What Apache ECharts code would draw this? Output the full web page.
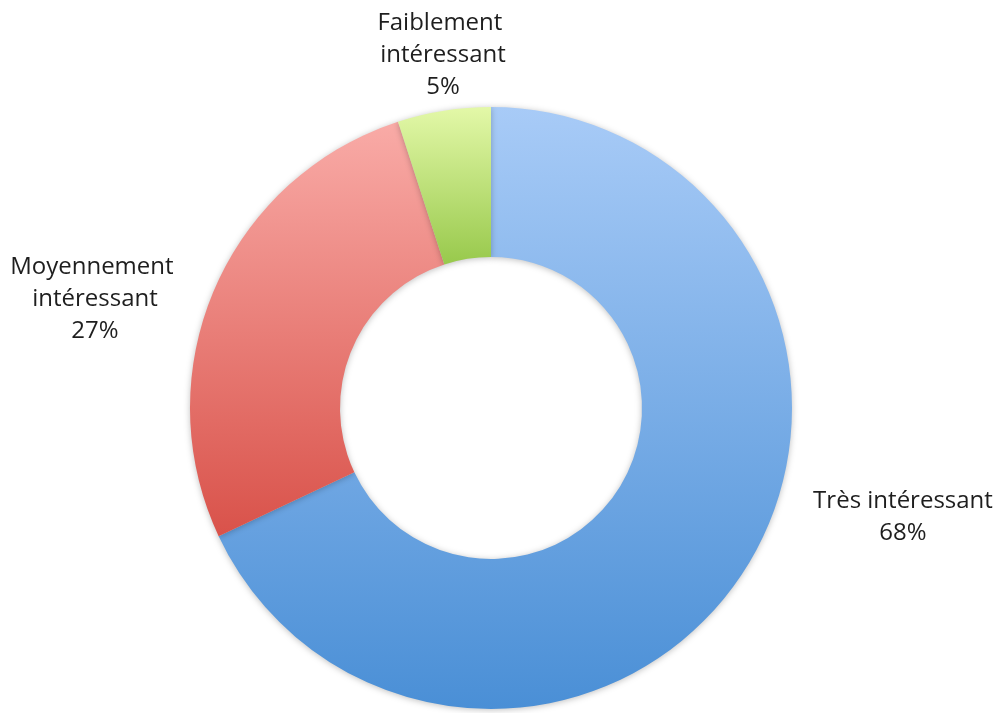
<!DOCTYPE html>
<html>
<head>
<meta charset="utf-8">
<script src="https://cdn.jsdelivr.net/npm/echarts@6/dist/echarts.min.js"></script>
<style>
  html, body { margin: 0; padding: 0; background: #fff; }
  #chart { width: 1002px; height: 713px; }
</style>
</head>
<body>
<div id="chart"></div>
<script>
// données
const categories = ['Très intéressant', 'Moyennement intéressant', 'Faiblement intéressant']
const values = [68, 27, 5]

// dégradés (haut -> bas) pour chaque part
const topColors = ['#a8cbf7', '#f9aba7', '#e3f8a8']
const bottomColors = ['#4a8fd6', '#d9524a', '#98c94c']

// où poser chaque étiquette (centre du bloc de texte)
const labelAt = [[903, 517], [95, 299], [443, 55]]
const labelWidth = [240, 200, 170]

const myChart = echarts.init(document.getElementById('chart'))

const seriesData = categories.map(function (name, i) {
  return {
    name: name,
    value: values[i],
    label: { width: labelWidth[i] },
    itemStyle: {
      color: new echarts.graphic.LinearGradient(0, 0, 0, 1, [
        { offset: 0, color: topColors[i] },
        { offset: 1, color: bottomColors[i] }
      ])
    }
  }
})

myChart.setOption({
  animation: false,
  series: [
    {
      type: 'pie',
      center: [491, 408],
      radius: [151, 301],
      startAngle: 90,
      clockwise: true,
      avoidLabelOverlap: false,
      data: seriesData,
      itemStyle: {
        shadowBlur: 6,
        shadowOffsetY: 1,
        shadowColor: 'rgba(0, 0, 0, 0.25)'
      },
      label: {
        show: true,
        position: 'outside',
        formatter: '{b}\n{d}%',
        overflow: 'break',
        align: 'center',
        fontFamily: 'Open Sans',
        fontSize: 24,
        lineHeight: 32,
        color: '#1e1e1e'
      },
      labelLine: { show: false },
      labelLayout: function (params) {
        const p = labelAt[params.dataIndex]
        return { x: p[0], y: p[1], align: 'center', verticalAlign: 'middle' }
      }
    }
  ]
})
</script>
</body>
</html>
